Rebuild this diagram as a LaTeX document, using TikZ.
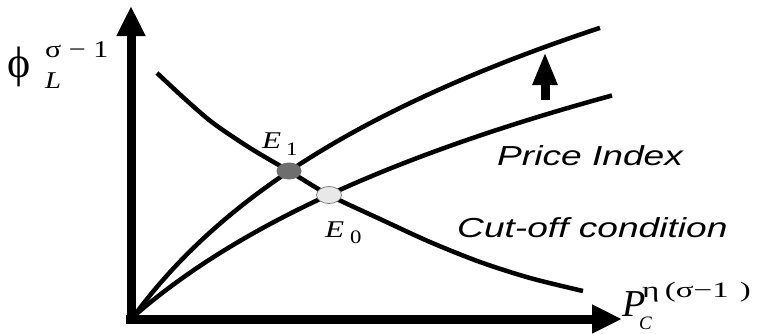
\documentclass[tikz,border=0pt]{standalone}
\usepackage{graphicx}
\usepackage{fontspec}
\setmainfont{Liberation Serif}
\setsansfont{Liberation Sans}
\usetikzlibrary{arrows.meta,shapes.geometric}
\definecolor{eqdark}{HTML}{6E6E6E}
\definecolor{eqlight}{HTML}{E8E8E8}
\newcommand{\wide}[2][1.35]{\scalebox{#1}[1]{#2}}
\newcommand{\fsz}[1]{\fontsize{#1}{#1}\selectfont}

\begin{document}
\begin{tikzpicture}[x=1pt, y=-1pt,
  axis/.style={line width=9pt, -{Triangle[length=30pt,width=27pt]}},
  curve/.style={line width=4.5pt},
  eq/.style={ellipse, minimum width=25pt, minimum height=17pt, inner sep=0pt},
  lbl/.style={inner sep=0pt, anchor=base west}]
\useasboundingbox (0,0) rectangle (758,333);
% --- Axes ---
\coordinate (ybot) at (131,323.5);
\coordinate (ytop) at (131,6);
\coordinate (xbot) at (126,319);
\coordinate (xtop) at (622,319);
\draw[axis] (ybot) -- (ytop);
\draw[axis] (xbot) -- (xtop);
%
% --- Curves ---
\draw[curve] plot[domain=134:600, samples=80] (\x, {316-204*ln(1+(\x-134)/150)}); % shifted
\draw[curve] plot[domain=134:612, samples=80] (\x, {316-191*ln(1+(\x-134)/220)}); % price index
\draw[curve] plot[smooth] coordinates {(157,73) (185,99) (213,123) (250,148)
  (289,171) (329,195) (380,219) (430,242) (480,262) (530,278) (583,291)}; % cut-off
%
% --- Shift arrow ---
\coordinate (shiftbot) at (545,100);
\coordinate (shifttop) at (545,52);
\draw[line width=9pt, -{Triangle[length=33pt,width=23pt]}] (shiftbot) -- (shifttop);
%
% --- Equilibria ---
\node[eq, fill=eqdark] (e1) at (289,171) {};
\node[eq, fill=eqlight, draw=black!55, line width=0.7pt] (e0) at (329,195) {};
%
% --- Labels ---
\node[lbl, font=\fsz{44}] (phi) at (7,77) {ϕ};
\node[lbl, font=\fsz{24}] (phisup) at (45,57) {\wide[1.25]{σ − 1}};
\node[lbl, font=\fsz{24}\itshape] (phisub) at (45,88) {\wide[1.2]{L}};
\node[lbl, font=\fsz{38}\itshape] (pc) at (622,316) {P};
\node[lbl, font=\fsz{22}] (pcsup) at (642,297) {\wide[1.5]{η\,(σ−1\,\,)}};
\node[lbl, font=\fsz{19}\itshape] (pcsub) at (639,329) {C};
\node[lbl, font=\fsz{24}\itshape] (e1lbl) at (262,148) {\wide[1.3]{E}};
\node[lbl, font=\fsz{19}] (e1sub) at (286,155) {\wide[1.2]{1}};
\node[lbl, font=\fsz{24}\itshape] (e0lbl) at (325,237) {\wide[1.3]{E}};
\node[lbl, font=\fsz{19}] (e0sub) at (350,243) {\wide[1.2]{0}};
\node[lbl, font=\fsz{27.5}\sffamily\itshape] (pilbl) at (497,165) {\wide{Price Index}};
\node[lbl, font=\fsz{27.5}\sffamily\itshape] (colbl) at (457,237) {\wide{Cut-off condition}};
%
\end{tikzpicture}
\end{document}
